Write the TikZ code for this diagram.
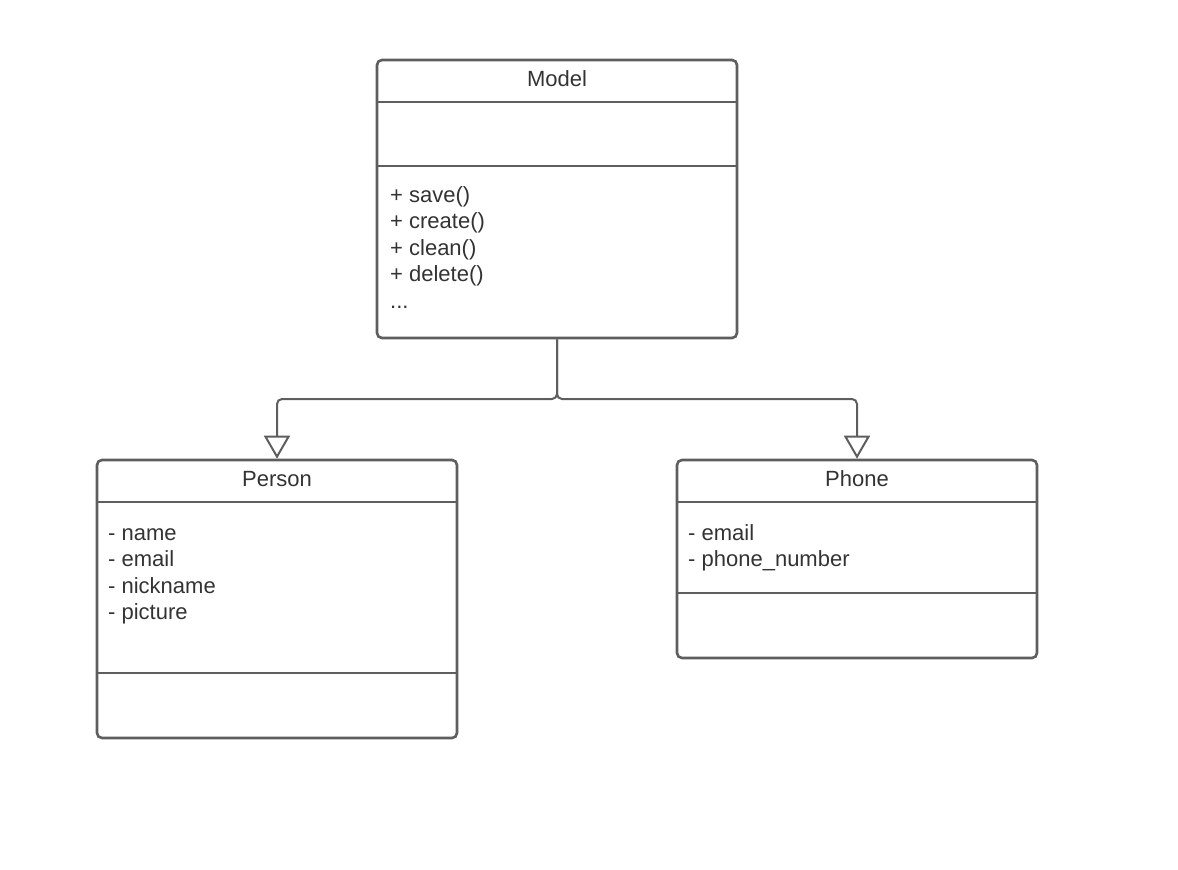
\documentclass[tikz,border=0pt]{standalone}
\usepackage{fontspec}
\setmainfont{Liberation Sans}
\usetikzlibrary{arrows.meta}
\definecolor{umlline}{RGB}{94,94,94}
\definecolor{umltext}{RGB}{51,51,51}

\begin{document}
\begin{tikzpicture}[x=1pt,y=-1pt,
  classbox/.style={draw=umlline, line width=2.6pt, rounded corners=5pt,
    minimum width=360pt, inner sep=0pt},
  divider/.style={draw=umlline, line width=2.6pt},
  label/.style={text=umltext, inner sep=0pt, font=\fontsize{22pt}{26.5pt}\selectfont},
  member/.style={label, anchor=base west},
  title/.style={label, anchor=base},
  link/.style={draw=umlline, line width=2pt, rounded corners=5pt,
    -{Triangle[open, width=26pt, length=23pt]}}]
\useasboundingbox (0,0) rectangle (1178,870);
% class boxes
\node [classbox, minimum height=278pt] (model) at (557,199) {};
\node [classbox, minimum height=278pt] (person) at (277,599) {};
\node [classbox, minimum height=198pt] (phone) at (857,559) {};
% compartments
\draw [divider] ([yshift=-43.3pt]model.north west) -- ([yshift=-43.3pt]model.north east);
\draw [divider] ([yshift=-107.3pt]model.north west) -- ([yshift=-107.3pt]model.north east);
\draw [divider] ([yshift=-43.3pt]person.north west) -- ([yshift=-43.3pt]person.north east);
\draw [divider] ([yshift=-214.3pt]person.north west) -- ([yshift=-214.3pt]person.north east);
\draw [divider] ([yshift=-43.3pt]phone.north west) -- ([yshift=-43.3pt]phone.north east);
\draw [divider] ([yshift=-134.3pt]phone.north west) -- ([yshift=-134.3pt]phone.north east);
% names
\node [title] (modelname) at (557,86) {Model};
\node [title] (personname) at (277,486) {Person};
\node [title] (phonename) at (857,486) {Phone};
% operations
\foreach \op [count=\i] in {save(),create(),clean(),delete()}
  \node [member] (modelop\i) at (390,175.5+26.5*\i) {+ \op};
\node [member] (modelmore) at (390,308) {...};
% attributes
\foreach \attr [count=\i] in {name,email,nickname,picture}
  \node [member] (personattr\i) at (108,513.5+26.6*\i) {- \attr};
\node [member] (phoneattr1) at (688,540) {- email};
\node [member] (phoneattr2) at (688,566.5) {- phone\_number};
% generalisation
\coordinate (split) at (557,399);
\draw [link] (model.south) -- (split) -| (person.north);
\draw [link] (model.south) -- (split) -| (phone.north);
\end{tikzpicture}
\end{document}
